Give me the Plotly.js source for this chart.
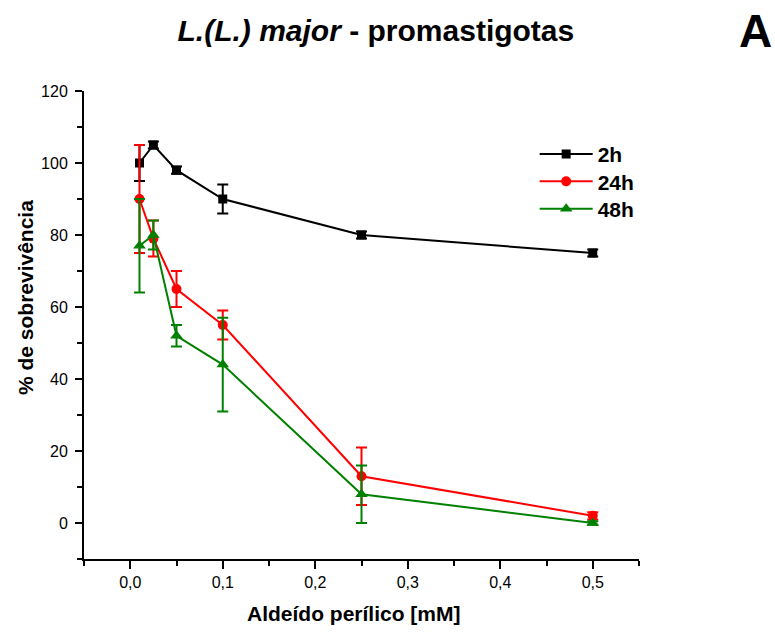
<!DOCTYPE html>
<html><head><meta charset="utf-8">
<script src="https://cdn.plot.ly/plotly-3.0.1.min.js"></script>
<style>body{margin:0;background:#fff}#chart{width:775px;height:632px}</style>
</head><body><div id="chart"></div>
<script>
const concentrations = [0.01, 0.025, 0.05, 0.1, 0.25, 0.5];
const seriesNames = ['2h', '24h', '48h'];
const surv2h = [100, 105, 98, 90, 80, 75];
const err2h = [5, 1, 1, 4, 1, 1];
const surv24h = [90, 79, 65, 55, 13, 2];
const err24h = [15, 5, 5, 4, 8, 1];
const surv48h = [77, 80, 52, 44, 8, 0];
const err48h = [13, 4, 3, 13, 8, 0.5];
const xTickVals = [0, 0.1, 0.2, 0.3, 0.4, 0.5];
const xTickText = ['0,0', '0,1', '0,2', '0,3', '0,4', '0,5'];
const yTickVals = [0, 20, 40, 60, 80, 100, 120];
const yTickText = ['0', '20', '40', '60', '80', '100', '120'];
const titleText = '<i>L.(L.) major</i> - promastigotas';
const xTitle = 'Aldeído perílico [mM]';
const yTitle = '% de sobrevivência';
const panelLabel = 'A';

const FONT = 'Liberation Sans, Arial, sans-serif';
const colors = ['#000000', '#ff0000', '#008000'];
const symbols = ['square', 'circle', 'triangle-up'];
const msizes = [9, 10, 11];
const ys = [surv2h, surv24h, surv48h];
const es = [err2h, err24h, err48h];
const legendIds = ['legend', 'legend2', 'legend3'];
const legendRowY = [0.8649, 0.8062, 0.7476];

const traces = seriesNames.map((n, i) => ({
  type: 'scatter', mode: 'lines+markers', name: n, legend: legendIds[i],
  x: concentrations, y: ys[i],
  line: {color: colors[i], width: 2},
  marker: {color: colors[i], symbol: symbols[i], size: msizes[i]},
  error_y: {type: 'data', array: es[i], visible: true, color: colors[i], thickness: 2, width: 5.5},
  cliponaxis: false
}));

const layout = {
  width: 775, height: 632,
  margin: {l: 84, r: 136, t: 91, b: 73},
  paper_bgcolor: '#fff', plot_bgcolor: '#fff',
  font: {family: FONT, color: '#000'},
  showlegend: true,
  title: {text: titleText, font: {size: 30, weight: 'bold', family: FONT},
    x: 0.485, xanchor: 'center', xref: 'container', y: 0.9525, yanchor: 'middle', yref: 'container'},
  xaxis: {
    range: [-0.05, 0.55], showgrid: false, zeroline: false,
    showline: true, linecolor: '#000', linewidth: 2,
    ticks: 'outside', ticklen: 8, tickwidth: 2, tickcolor: '#000',
    tickmode: 'array', tickvals: xTickVals, ticktext: xTickText,
    tickfont: {size: 16, family: FONT},
    minor: {tickmode: 'linear', tick0: 0, dtick: 0.05, ticks: 'outside', ticklen: 5, tickwidth: 2, tickcolor: '#000'}
  },
  yaxis: {
    range: [-10, 120], showgrid: false, zeroline: false,
    showline: true, linecolor: '#000', linewidth: 2,
    ticks: 'outside', ticklen: 7, tickwidth: 2, tickcolor: '#000',
    tickmode: 'array', tickvals: yTickVals, ticktext: yTickText,
    tickfont: {size: 16, family: FONT}, ticklabelstandoff: 4,
    minor: {tickmode: 'linear', tick0: 0, dtick: 10, ticks: 'outside', ticklen: 5, tickwidth: 2, tickcolor: '#000'}
  },
  annotations: [
    {text: panelLabel, xref: 'paper', yref: 'paper', x: 1.2108, y: 1.1274, xanchor: 'center', yanchor: 'middle',
      showarrow: false, font: {size: 46, weight: 'bold', family: FONT}},
    {text: xTitle, xref: 'paper', yref: 'paper', x: 0.4865, y: -0.1167, xanchor: 'center', yanchor: 'middle',
      showarrow: false, font: {size: 21, weight: 'bold', family: FONT}},
    {text: yTitle, xref: 'paper', yref: 'paper', x: -0.1063, y: 0.5576, xanchor: 'center', yanchor: 'middle',
      textangle: -90, showarrow: false, font: {size: 21, weight: 'bold', family: FONT}}
  ]
};
legendIds.forEach((id, i) => {
  layout[id] = {x: 0.812, y: legendRowY[i], xanchor: 'left', yanchor: 'middle', bgcolor: 'rgba(0,0,0,0)',
    font: {size: 21, weight: 'bold', family: FONT}, itemwidth: 53};
});

Plotly.newPlot('chart', traces, layout, {displayModeBar: false, staticPlot: true});
</script></body></html>
